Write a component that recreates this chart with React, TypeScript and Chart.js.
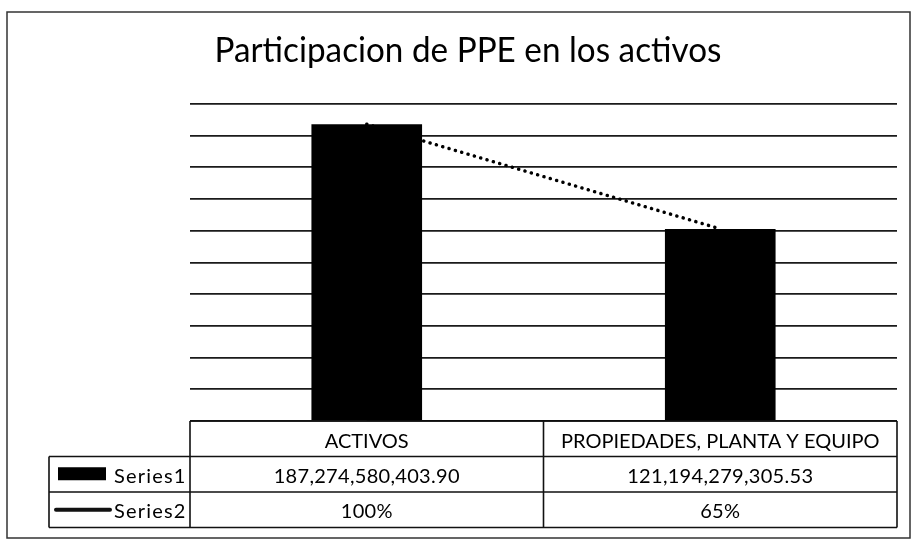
import React, { useEffect, useRef } from "react";
import { Chart, registerables } from "chart.js";

Chart.register(...registerables);

const chartTitle = "Participacion de PPE en los activos";
const categories = ["ACTIVOS", "PROPIEDADES, PLANTA Y EQUIPO"];
const series1Name = "Series1";
const series2Name = "Series2";
const series1Values = [187274580403.9, 121194279305.53];
const series2Values = [1.0, 0.65];
const series1Labels = ["187,274,580,403.90", "121,194,279,305.53"];
const series2Labels = ["100%", "65%"];
const yMin = 0;
const yMax = 200e9;
const yStep = 20e9;

// Excel-style linear trendline of Series1
function linearTrend(values: number[]): number[] {
  const n = values.length;
  const xs = values.map((_, i) => i + 1);
  const mx = xs.reduce((a, b) => a + b, 0) / n;
  const my = values.reduce((a, b) => a + b, 0) / n;
  let num = 0;
  let den = 0;
  for (let i = 0; i < n; i++) {
    num += (xs[i] - mx) * (values[i] - my);
    den += (xs[i] - mx) * (xs[i] - mx);
  }
  const slope = den === 0 ? 0 : num / den;
  return xs.map((x) => my + slope * (x - mx));
}

const FONT = "Lato, 'Liberation Sans', sans-serif";

const tablePlugin = {
  id: "excelTable",
  afterDraw(chart: any) {
    const ctx = chart.ctx as CanvasRenderingContext2D;
    const area = chart.chartArea;
    const xScale = chart.scales.x;
    ctx.save();

    // outer chart border
    ctx.strokeStyle = "#333";
    ctx.lineWidth = 1.5;
    ctx.beginPath();
    ctx.moveTo(7, 12);
    ctx.lineTo(910, 12);
    ctx.lineTo(910, 538);
    ctx.lineTo(7, 538);
    ctx.closePath();
    ctx.stroke();

    // title
    ctx.fillStyle = "#000";
    ctx.font = `33px ${FONT}`;
    ctx.textAlign = "center";
    ctx.textBaseline = "alphabetic";
    const tw = ctx.measureText(chartTitle).width;
    const targetW = 507;
    ctx.save();
    ctx.translate(468, 62);
    ctx.scale(targetW / tw, 1.06);
    ctx.fillText(chartTitle, 0, 0);
    ctx.restore();

    // data table
    const top = area.bottom;
    const rowH = 35.5;
    const r1 = top + rowH;
    const r2 = r1 + rowH;
    const r3 = r2 + rowH;
    const legendLeft = 49;
    const left = area.left;
    const right = area.right;
    const n = categories.length;
    const half = (xScale.getPixelForValue(1) - xScale.getPixelForValue(0)) / 2;
    const colEdges: number[] = [left];
    for (let i = 0; i < n - 1; i++) colEdges.push(xScale.getPixelForValue(i) + half);
    colEdges.push(right);

    ctx.strokeStyle = "#111";
    ctx.lineWidth = 1.6;
    ctx.beginPath();
    ctx.moveTo(left, top);
    ctx.lineTo(right, top);
    ctx.moveTo(legendLeft, r1);
    ctx.lineTo(right, r1);
    ctx.moveTo(legendLeft, r2);
    ctx.lineTo(right, r2);
    ctx.moveTo(legendLeft, r3);
    ctx.lineTo(right, r3);
    ctx.moveTo(legendLeft, r1);
    ctx.lineTo(legendLeft, r3);
    for (const e of colEdges) {
      ctx.moveTo(e, top);
      ctx.lineTo(e, r3);
    }
    ctx.stroke();

    ctx.fillStyle = "#000";
    ctx.font = `20px ${FONT}`;
    ctx.textAlign = "center";
    ctx.textBaseline = "middle";
    for (let i = 0; i < n; i++) {
      const cx = xScale.getPixelForValue(i);
      (ctx as any).letterSpacing = "0px";
      ctx.fillText(categories[i], cx, (top + r1) / 2 + 3);
      (ctx as any).letterSpacing = "0.3px";
      ctx.fillText(series1Labels[i], cx, (r1 + r2) / 2 + 2);
      ctx.fillText(series2Labels[i], cx, (r2 + r3) / 2 + 2);
    }

    // legend keys
    ctx.fillRect(58, (r1 + r2) / 2 - 7, 48, 13);
    ctx.lineWidth = 4;
    ctx.lineCap = "round";
    ctx.beginPath();
    ctx.moveTo(56, (r2 + r3) / 2);
    ctx.lineTo(110, (r2 + r3) / 2);
    ctx.stroke();
    ctx.textAlign = "left";
    (ctx as any).letterSpacing = "1.2px";
    ctx.fillText(series1Name, 114, (r1 + r2) / 2 + 2);
    ctx.fillText(series2Name, 114, (r2 + r3) / 2 + 2);
    (ctx as any).letterSpacing = "0px";

    ctx.restore();
  },
};

export default function App() {
  const ref = useRef<HTMLCanvasElement | null>(null);

  useEffect(() => {
    document.body.style.margin = "0";
    const canvas = ref.current;
    if (!canvas) return;
    const trend = linearTrend(series1Values);
    const chart = new Chart(canvas, {
      type: "bar",
      data: {
        labels: categories,
        datasets: [
          {
            type: "line",
            label: "Lineal (" + series1Name + ")",
            data: trend,
            borderColor: "#000",
            borderWidth: 3.5,
            borderDash: [0.1, 6.5],
            borderCapStyle: "round",
            pointRadius: 0,
            fill: false,
            order: 0,
          } as any,
          {
            type: "line",
            label: series2Name,
            data: series2Values,
            borderColor: "#000",
            borderWidth: 2,
            pointRadius: 0,
            fill: false,
            order: 1,
          } as any,
          {
            type: "bar",
            label: series1Name,
            data: series1Values,
            backgroundColor: "#000",
            borderWidth: 0,
            categoryPercentage: 1,
            barPercentage: 0.313,
            order: 2,
          } as any,
        ],
      },
      options: {
        responsive: false,
        animation: false,
        devicePixelRatio: 1,
        layout: { padding: { left: 190, right: 15, top: 104, bottom: 120 } },
        plugins: {
          legend: { display: false },
          title: { display: false },
          tooltip: { enabled: false },
        },
        scales: {
          x: { display: false },
          y: {
            display: true,
            min: yMin,
            max: yMax,
            ticks: { display: false, stepSize: yStep },
            border: { display: false },
            grid: { drawTicks: false, tickLength: 0, color: "#1a1a1a", lineWidth: 1.8 },
          },
        },
      },
      plugins: [tablePlugin],
    });
    return () => chart.destroy();
  }, []);

  return (
    <canvas
      ref={ref}
      width={912}
      height={541}
      style={{ display: "block", width: 912, height: 541, background: "#fff" }}
    />
  );
}
